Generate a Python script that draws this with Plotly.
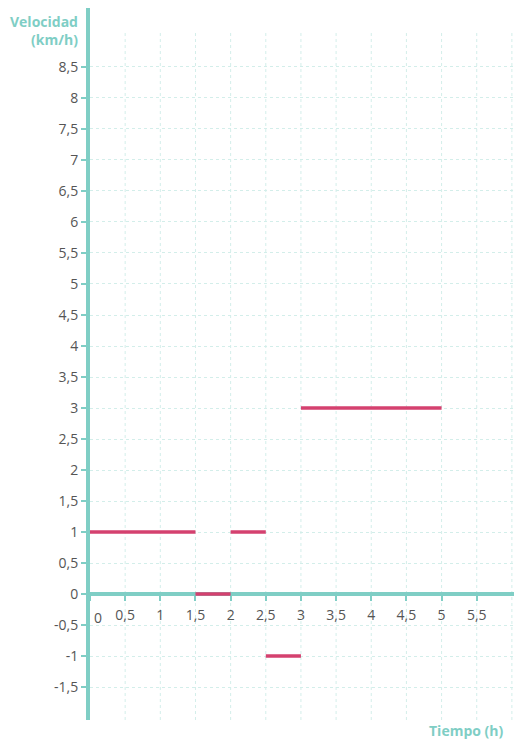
import plotly.graph_objects as go

# Data
seg_start = [0, 1.5, 2, 2.5, 3]
seg_end = [1.5, 2, 2.5, 3, 5]
seg_speed = [1, 0, 1, -1, 3]

x_ticks = [0, 0.5, 1, 1.5, 2, 2.5, 3, 3.5, 4, 4.5, 5, 5.5]
x_labels = ["", "0,5", "1", "1,5", "2", "2,5", "3", "3,5", "4", "4,5", "5", "5,5"]
y_ticks = [-1.5, -1, -0.5, 0, 0.5, 1, 1.5, 2, 2.5, 3, 3.5, 4, 4.5, 5, 5.5, 6, 6.5, 7, 7.5, 8, 8.5]
y_labels = ["-1,5", "-1", "-0,5", "0", "0,5", "1", "1,5", "2", "2,5", "3", "3,5", "4",
            "4,5", "5", "5,5", "6", "6,5", "7", "7,5", "8", "8,5"]
v_grid = [0.5, 1, 1.5, 2, 2.5, 3, 3.5, 4, 4.5, 5, 5.5, 6]

TEAL = "#7fcec5"
GRID = "#d3eeea"
PINK = "#d4416f"
TXT = "#555555"

YMIN, YMAX = -2.03, 9.45
XMIN, XMAX = 0, 6.03

xs, ys = [], []
for a, b, s in zip(seg_start, seg_end, seg_speed):
    xs += [a, b, None]
    ys += [s, s, None]

fig = go.Figure()
fig.add_trace(go.Scatter(x=xs, y=ys, mode="lines",
                         line=dict(color=PINK, width=3.5),
                         hoverinfo="skip", showlegend=False, cliponaxis=False))

shapes = []
for gx in v_grid:
    shapes.append(dict(type="line", xref="x", yref="y", x0=gx, x1=gx, y0=YMIN, y1=9.05,
                       line=dict(color=GRID, width=1, dash="dot"), layer="below"))

PW, PH = 424, 712  # plot area px

fig.update_layout(
    width=514, height=742,
    margin=dict(l=90, r=0, t=8, b=22),
    plot_bgcolor="white", paper_bgcolor="white",
    separators=", ",
    font=dict(family="Open Sans", size=14, color=TXT),
    shapes=shapes,
    xaxis=dict(range=[XMIN, XMAX], tickvals=x_ticks, ticktext=x_labels,
               anchor="free", position=(0 - YMIN) / (YMAX - YMIN),
               showline=True, linecolor=TEAL, linewidth=3.5, layer="below traces",
               ticks="outside", ticklen=5, tickwidth=2, tickcolor=TEAL,
               ticklabelstandoff=2,
               showgrid=False, zeroline=False,
               tickfont=dict(size=14, color=TXT)),
    yaxis=dict(range=[YMIN, YMAX], tickvals=y_ticks, ticktext=y_labels,
               showline=True, linecolor=TEAL, linewidth=4, layer="below traces",
               ticks="outside", ticklen=5, tickwidth=2, tickcolor=TEAL,
               showgrid=True, gridcolor=GRID, gridwidth=1, griddash="dot",
               zeroline=False, tickfont=dict(size=14, color=TXT)),
    annotations=[
        dict(text="0", x=0, y=0, xref="x", yref="y", xanchor="center", yanchor="top",
             xshift=8, yshift=-12, showarrow=False, font=dict(size=14, color=TXT)),
        dict(text="<b>Velocidad<br>(km/h)</b>", x=(80 - 90) / PW, y=1 - 2 / PH,
             xref="paper", yref="paper",
             showarrow=False, align="right", xanchor="right", yanchor="top",
             font=dict(size=14, color=TEAL)),
        dict(text="<b>Tiempo (h)</b>", x=(506 - 90) / PW, y=-(730 - 720) / PH,
             xref="paper", yref="paper",
             showarrow=False, xanchor="right", yanchor="middle",
             font=dict(size=14, color=TEAL)),
    ],
)

fig.write_html("out.html", config={"displayModeBar": False},
               post_script="document.body.style.margin='0';document.body.style.padding='0';")
